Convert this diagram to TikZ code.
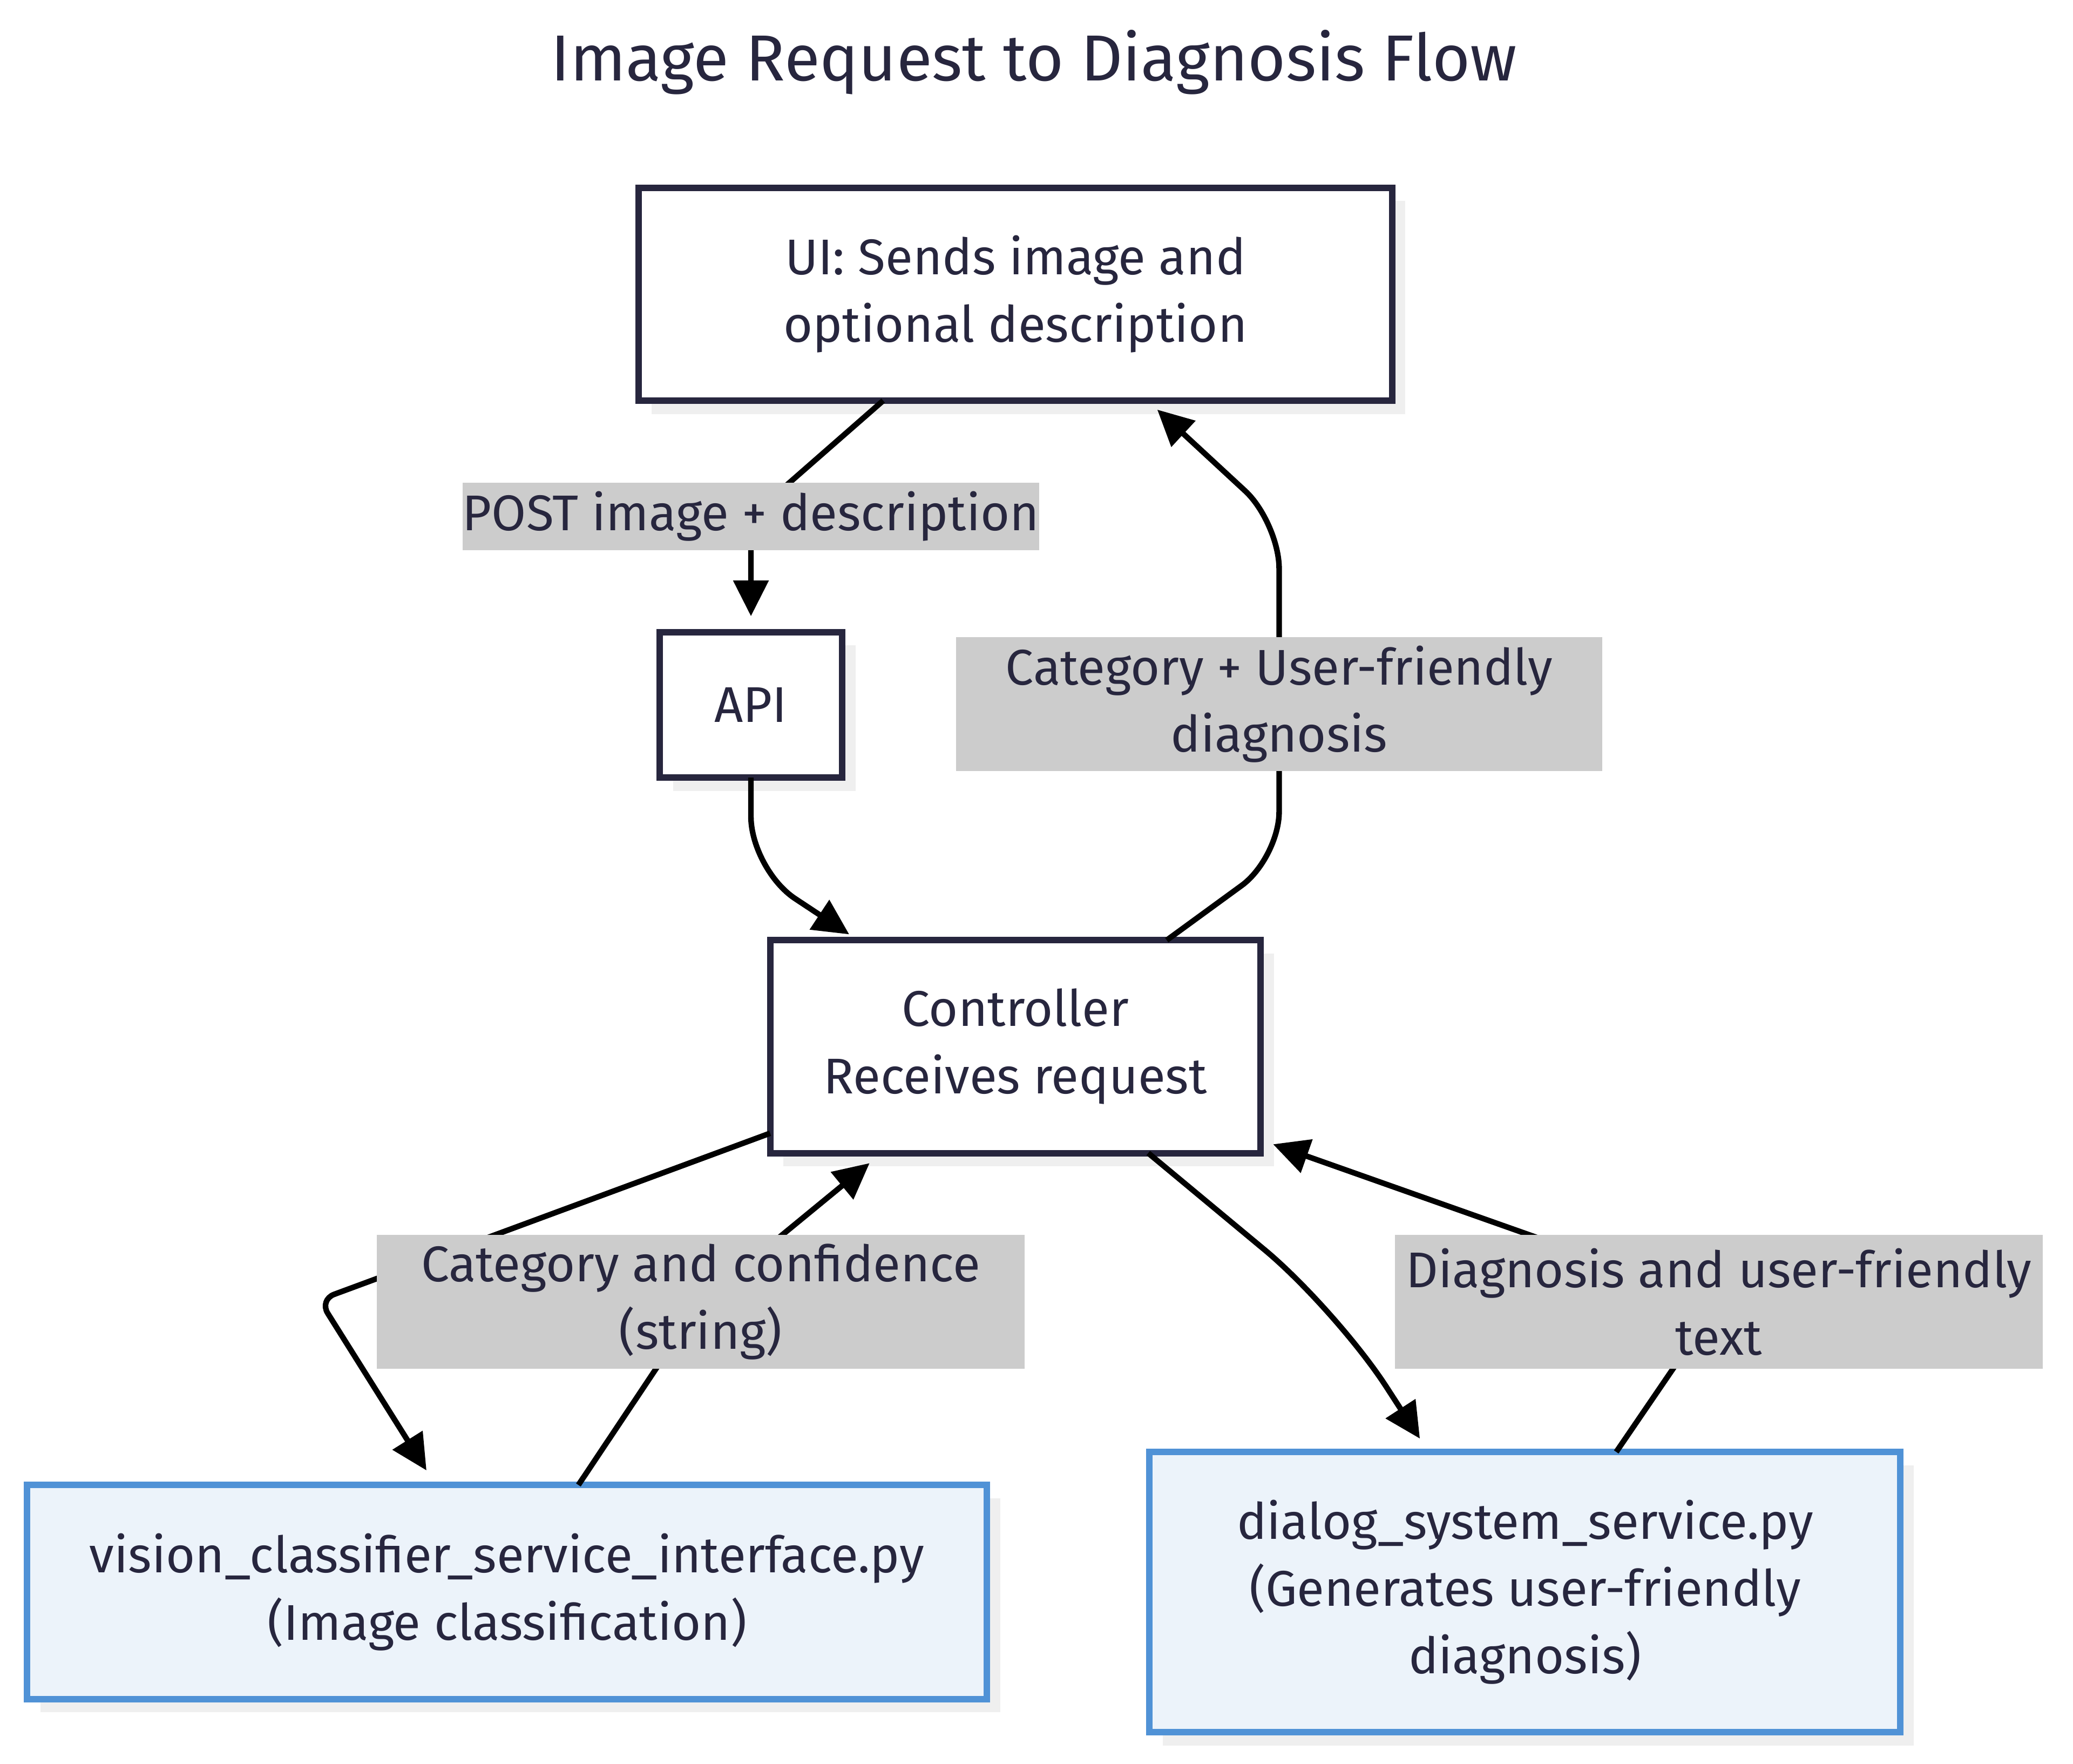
\documentclass[tikz,border=0pt]{standalone}
\usepackage{fontspec}
\setmainfont{Fira Sans}
\usepackage{tikz}
\usetikzlibrary{shapes,arrows.meta,positioning,shadows}
\definecolor{ink}{RGB}{39,38,62}
\definecolor{lblgray}{RGB}{204,204,204}
\definecolor{shadowgray}{RGB}{239,239,239}
\definecolor{svcblue}{RGB}{80,146,214}
\definecolor{svcfill}{RGB}{236,243,250}
\tikzstyle{box} = [rectangle, draw=ink, line width=1.4pt, outer sep=0pt, fill=white, text=ink, align=center, font=\fontsize{10.8}{14.5}\selectfont, drop shadow={shadow xshift=0.1cm, shadow yshift=-0.1cm, fill=shadowgray, opacity=1}]
\tikzstyle{svc} = [box, draw=svcblue, fill=svcfill]
\tikzstyle{elabel} = [rectangle, fill=lblgray, text=ink, align=center, inner sep=0pt, font=\fontsize{10.8}{14.5}\selectfont]
\tikzstyle{textonly} = [draw=none, fill=none, text=ink, font=\fontsize{14}{17}\selectfont]
\tikzstyle{tedge}  = [draw, black, line width=1.2pt, -{Triangle[length=0.27cm, width=0.26cm]}]

\begin{document}
\begin{tikzpicture}[auto]
\useasboundingbox (0,0) rectangle (15.68,-13.340);

% boxes =============================
\node[textonly] (title) at (7.82,-0.47) {Image Request to Diagnosis Flow};
\node[box, minimum width=5.70cm, minimum height=1.61cm] (ui) at (7.68,-2.225) {UI: Sends image and\\optional description};
\node[box, minimum width=1.38cm, minimum height=1.10cm, below=1.75cm of ui, xshift=-2cm] (api) {API};
\node[box, minimum width=3.71cm, minimum height=1.61cm, below=1.23cm of api, xshift=2cm] (ctrl) {Controller\\Receives request};
\node[svc, minimum width=7.26cm, minimum height=1.62cm, below=2.51cm of ctrl, xshift=-3.845cm] (vis) {vision\_classifier\_service\_interface.py\\(Image classification)};
\node[svc, minimum width=5.68cm, minimum height=2.12cm, below=2.26cm of ctrl, xshift=3.855cm] (dlg) {dialog\_system\_service.py\\(Generates user-friendly\\diagnosis)};

% label spots
\coordinate (cpost) at (5.68,-3.905);
\coordinate (ccat) at (9.675,-5.325);
\coordinate (cconf) at (5.30,-9.845);
\coordinate (cdiag) at (13.00,-9.845);

% edges
\draw[tedge, shorten >=0.12cm] ([xshift=-1cm]ui.south) -- (cpost) -- (api.north);
\draw[tedge, rounded corners=0.4cm, shorten >=0.08cm] (api.south) -- ([yshift=-0.695cm]api.south) -- ([xshift=-1.19cm]ctrl.north);
\draw[tedge, rounded corners=0.35cm, shorten >=0.1cm] ([xshift=1.145cm]ctrl.north) -- ([yshift=-1.165cm]ccat) -- ([yshift=1.375cm]ccat) -- ([xshift=1cm]ui.south);
\draw[tedge, rounded corners=0.12cm, shorten >=0.13cm] ([yshift=0.15cm]ctrl.south west) -- ([xshift=-1.42cm, yshift=1.40cm]vis.north) -- ([xshift=-0.54cm]vis.north);
\draw[tedge, shorten >=0.12cm] ([xshift=0.54cm]vis.north) -- (cconf) -- ([xshift=-1.01cm]ctrl.south);
\draw[tedge, rounded corners=0.7cm, shorten >=0.12cm] ([xshift=1.005cm]ctrl.south) -- ([xshift=-1.43cm, yshift=1.08cm]dlg.north) -- ([xshift=-0.73cm]dlg.north);
\draw[tedge, shorten >=0.1cm] ([xshift=0.69cm]dlg.north) -- (cdiag) -- ([yshift=0.1cm]ctrl.south east);

% edge labels
\node[elabel, minimum width=4.28cm, minimum height=0.51cm] (lpost) at (cpost) {POST image + description};
\node[elabel, minimum width=4.89cm, minimum height=1.01cm] (lcat) at (ccat) {Category + User-friendly\\diagnosis};
\node[elabel, minimum width=4.90cm, minimum height=1.01cm] (lconf) at (cconf) {Category and confidence\\(string)};
\node[elabel, minimum width=4.90cm, minimum height=1.01cm] (ldiag) at (cdiag) {Diagnosis and user-friendly\\text};

\end{tikzpicture}
\end{document}
